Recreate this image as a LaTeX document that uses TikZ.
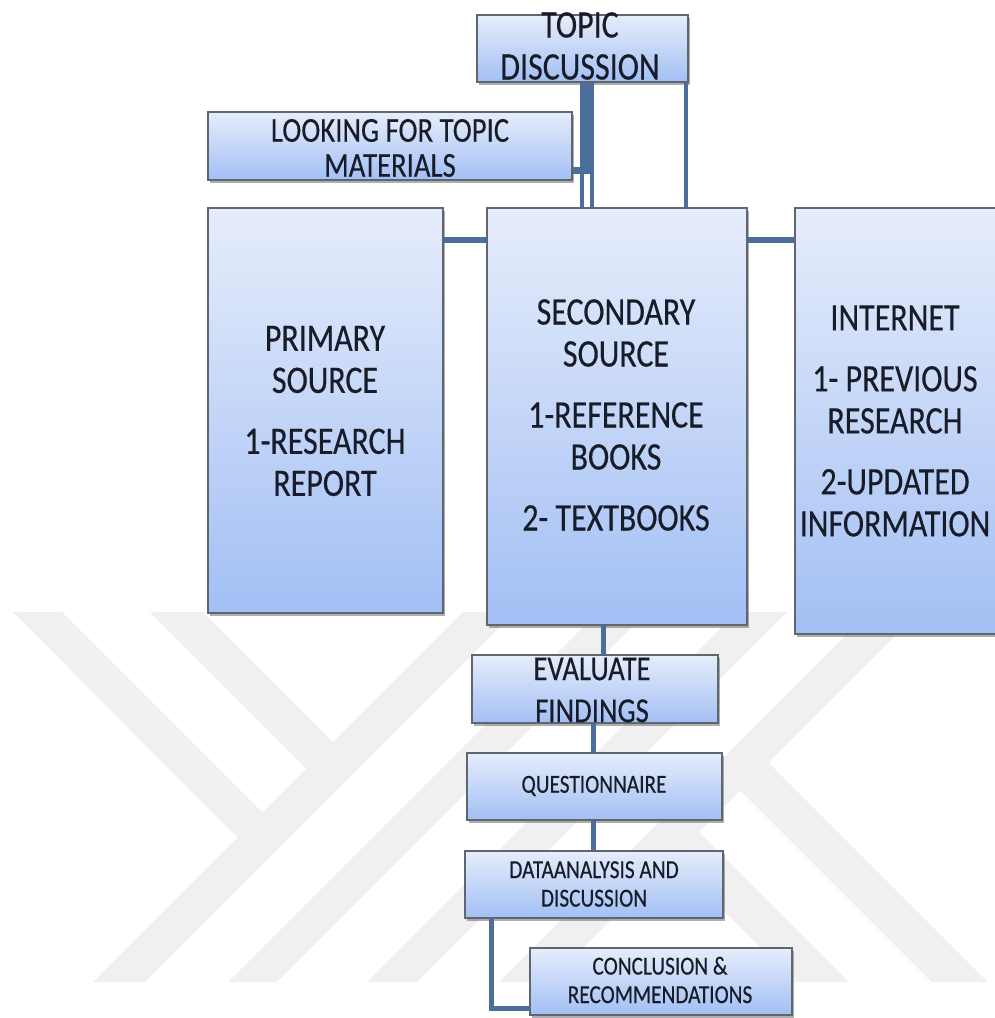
\documentclass[tikz,border=0pt]{standalone}
\usepackage{fontspec}
\setmainfont{Carlito}[FakeStretch=0.82,FakeBold=0.35]
\usetikzlibrary{fit,shadows}
\definecolor{linec}{HTML}{4B6E9B}
\definecolor{boxborder}{HTML}{5F6670}
\definecolor{boxtop}{HTML}{E6EDFB}
\definecolor{boxbot}{HTML}{A2BFF4}
\definecolor{wmark}{HTML}{F0F0F0}
\definecolor{txtc}{HTML}{171C28}
\newcommand{\fbig}{\fontsize{39}{42}\selectfont}
\newcommand{\fmid}{\fontsize{35}{35}\selectfont}
\newcommand{\fev}{\fontsize{35}{42}\selectfont}
\newcommand{\fsml}{\fontsize{26}{28.5}\selectfont}
\begin{document}
\begin{tikzpicture}[x=1pt,y=-1pt,
  flowbox/.style={draw=boxborder, line width=1.1pt, inner sep=0pt,
    top color=boxtop, bottom color=boxbot,
    drop shadow={shadow xshift=2pt, shadow yshift=-3pt, opacity=0.45, fill=black!70}},
  txt/.style={text=txtc, align=center, inner sep=0pt},
  conn/.style={draw=linec, line width=5pt},
  wm/.style={fill=wmark, draw=none}]
\useasboundingbox (0,0) rectangle (995,1018);
\fill[white] (0,0) rectangle (995,1018);
% watermark
\fill[wm] (463,612) -- (515,612) -- (145,982) -- (93,982) -- cycle;
\fill[wm] (13,612) -- (62,612) -- (275,825) -- (250,850) -- cycle;
\fill[wm] (150,612) -- (203,612) -- (345.5,754.5) -- (319,781) -- cycle;
\fill[wm] (598,612) -- (647,612) -- (277,982) -- (228,982) -- cycle;
\fill[wm] (737,612) -- (787,612) -- (417,982) -- (367,982) -- cycle;
\fill[wm] (869,612) -- (919,612) -- (549,982) -- (499,982) -- cycle;
\fill[wm] (756,750) -- (988,982) -- (932,982) -- (728,778) -- cycle;
\fill[wm] (686.5,819.5) -- (849,982) -- (795,982) -- (659.5,846.5) -- cycle;
% helper coordinates
\coordinate (xa) at (582,0);
\coordinate (xb) at (592,0);
\coordinate (xm) at (587,0);
\coordinate (xc) at (686,0);
\coordinate (yh) at (0,240);
\coordinate (xe) at (603,0);
\coordinate (xq) at (593,0);
\coordinate (xd) at (491,0);
\coordinate (yc) at (0,1008);
% box corners
\path (477,15) coordinate (t1) (688,82) coordinate (t2);
\path (208,112) coordinate (l1) (572,180) coordinate (l2);
\path (208,208) coordinate (p1) (443,613) coordinate (p2);
\path (487,208) coordinate (s1) (747,625) coordinate (s2);
\path (795,208) coordinate (i1) (1002,634) coordinate (i2);
\path (472,655) coordinate (e1) (718,723) coordinate (e2);
\path (467,753) coordinate (q1) (722,820) coordinate (q2);
\path (465,851) coordinate (d1) (723,918) coordinate (d2);
\path (530,948) coordinate (c1) (792,1015) coordinate (c2);
% boxes
\node[flowbox, fit=(t1)(t2)] (topic) {};
\node[flowbox, fit=(l1)(l2)] (look) {};
\node[flowbox, fit=(p1)(p2)] (prim) {};
\node[flowbox, fit=(s1)(s2)] (sec) {};
\node[flowbox, fit=(i1)(i2)] (int) {};
\node[flowbox, fit=(e1)(e2)] (eval) {};
\node[flowbox, fit=(q1)(q2)] (quest) {};
\node[flowbox, fit=(d1)(d2)] (data) {};
\node[flowbox, fit=(c1)(c2)] (concl) {};
% connectors
\draw[conn, line width=4pt] (topic.south -| xa) -- (sec.north -| xa);
\draw[conn, line width=4pt] (topic.south -| xb) -- (sec.north -| xb);
\draw[conn, line width=4pt] (topic.south -| xc) -- (sec.north -| xc);
\draw[conn, line width=7pt] (topic.south -| xm) |- ([yshift=-24pt]look.east);
\draw[conn, line width=6pt] (prim.east |- yh) -- (sec.west |- yh);
\draw[conn, line width=6pt] (sec.east |- yh) -- (int.west |- yh);
\draw[conn] (sec.south -| xe) -- (eval.north -| xe);
\draw[conn] (eval.south -| xq) -- (quest.north -| xq);
\draw[conn] (quest.south -| xq) -- (data.north -| xq);
\draw[conn] (data.south -| xd) |- (concl.west |- yc);
% texts
\node[txt, font=\fbig] (topic-t) at (580,46) {TOPIC\\DISCUSSION};
\node[txt, font=\fmid] (look-t) at (390,148) {LOOKING FOR TOPIC\\MATERIALS};
\node[txt, font=\fbig] (prim-t) at (325,411) {PRIMARY\\SOURCE\\[19pt]1-RESEARCH\\REPORT};
\node[txt, font=\fbig] (sec-t) at (616,415) {SECONDARY\\SOURCE\\[19pt]1-REFERENCE\\BOOKS\\[19pt]2- TEXTBOOKS};
\node[txt, font=\fbig] (int-t) at (895,421) {INTERNET\\[19pt]1- PREVIOUS\\RESEARCH\\[19pt]2-UPDATED\\INFORMATION};
\node[txt, font=\fev] (eval-t) at (592,690) {EVALUATE\\FINDINGS};
\node[txt, font=\fsml] (quest-t) at (594,786) {QUESTIONNAIRE};
\node[txt, font=\fsml] (data-t) at (594,884) {DATAANALYSIS AND\\DISCUSSION};
\node[txt, font=\fsml] (concl-t) at (660,980) {CONCLUSION \&\\RECOMMENDATIONS};
\end{tikzpicture}
\end{document}
